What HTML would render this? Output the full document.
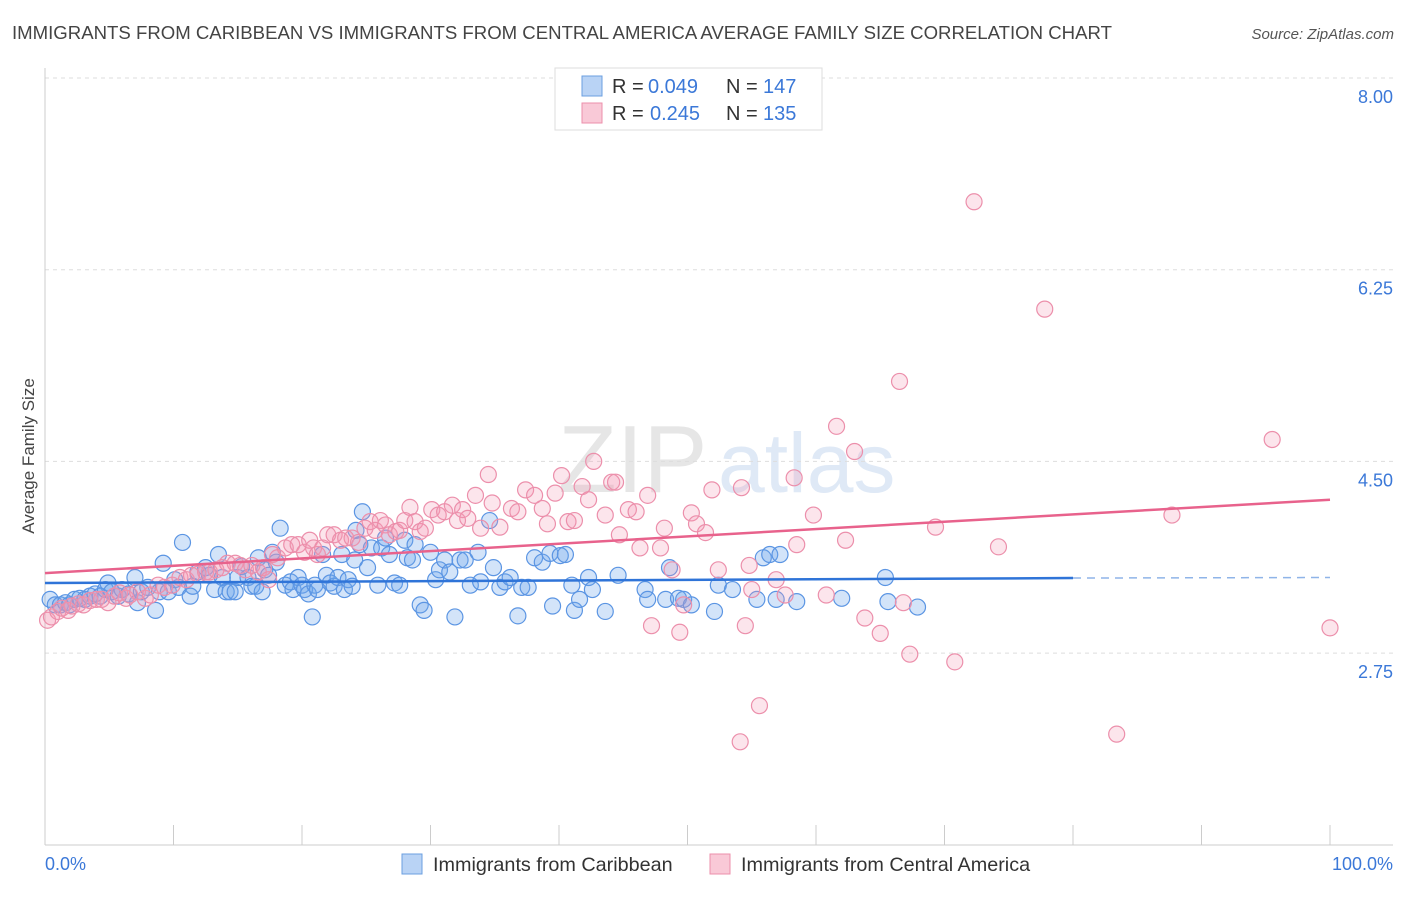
<!DOCTYPE html>
<html><head><meta charset="utf-8"><style>
body{margin:0;background:#fff;font-family:"Liberation Sans",sans-serif;}
svg text{font-family:"Liberation Sans",sans-serif;}
</style></head><body>
<svg id="chart" width="1406" height="892" viewBox="0 0 1406 892">
<text x="12" y="39" font-size="18.6" fill="#444">IMMIGRANTS FROM CARIBBEAN VS IMMIGRANTS FROM CENTRAL AMERICA AVERAGE FAMILY SIZE CORRELATION CHART</text>
<text x="1394" y="39" font-size="15" fill="#555" font-style="italic" text-anchor="end">Source: ZipAtlas.com</text>
<g>
<text x="558" y="492" font-size="96" fill="#e6e6e6" font-family="Liberation Serif,serif">ZIP</text>
<text x="718" y="492" font-size="84" fill="#dfe9f6">atlas</text>
</g>
<g id="grid"></g>
<g id="axes"></g>
<g id="points"></g>
<g id="lines"></g>
<text transform="translate(34,456) rotate(-90)" font-size="17" fill="#444" text-anchor="middle">Average Family Size</text>
<g>
<rect x="555" y="68" width="267" height="62" fill="#fff" stroke="#ddd"/>
<rect x="582" y="76" width="20" height="20" fill="#b9d3f5" stroke="#6b9fe0"/>
<rect x="582" y="103" width="20" height="20" fill="#f9c9d7" stroke="#ec8fab"/>
<g font-size="20">
<text x="612" y="93" fill="#333">R =</text><text x="648" y="93" fill="#3b78d8">0.049</text>
<text x="726" y="93" fill="#333">N =</text><text x="763" y="93" fill="#3b78d8">147</text></g>
<g font-size="20">
<text x="612" y="120" fill="#333">R =</text><text x="650" y="120" fill="#3b78d8">0.245</text>
<text x="726" y="120" fill="#333">N =</text><text x="763" y="120" fill="#3b78d8">135</text></g>
</g>
<g>
<rect x="402" y="854" width="20" height="20" fill="#b9d3f5" stroke="#6b9fe0"/>
<text x="433" y="871" font-size="19.8" fill="#333">Immigrants from Caribbean</text>
<rect x="710" y="854" width="20" height="20" fill="#f9c9d7" stroke="#ec8fab"/>
<text x="741" y="871" font-size="19.8" fill="#333">Immigrants from Central America</text>
</g>
<text x="45" y="870" font-size="18" fill="#3b78d8">0.0%</text>
<text x="1393" y="870" font-size="18" fill="#3b78d8" text-anchor="end">100.0%</text>
</svg>
<script>
const yTicks=[8.00,6.25,4.50,2.75];
const yTickLabels=["8.00","6.25","4.50","2.75"];
const xTicks=[0,10,20,30,40,50,60,70,80,90,100];
const blueX=[0.4,0.8,1.2,1.6,1.9,2.3,2.7,3.1,3.5,3.9,4.3,4.7,4.9,5.2,5.7,6.0,6.5,7.0,7.2,7.5,8.0,8.6,8.9,9.2,9.6,10.1,10.4,10.7,11.3,11.5,11.9,12.5,12.8,13.2,13.5,13.8,14.1,14.4,14.8,15.0,15.3,15.8,16.1,16.4,16.6,16.9,17.1,17.4,17.7,18.0,18.3,18.7,19.1,19.3,19.7,20.0,20.2,20.5,20.8,21.0,21.2,21.6,21.9,22.2,22.5,22.8,23.1,23.3,23.6,23.9,24.1,24.2,24.5,24.7,25.1,25.4,25.9,26.2,26.5,26.8,27.2,27.6,28.0,28.2,28.6,28.8,29.2,29.5,30.0,30.4,30.7,31.1,31.5,31.9,32.3,32.7,33.1,33.7,33.9,34.6,34.9,35.4,35.8,36.2,36.8,37.1,37.6,38.1,38.7,39.3,39.5,40.1,40.5,41.0,41.2,41.6,42.3,42.6,43.6,44.6,46.7,46.9,48.3,48.6,49.3,49.7,50.3,52.1,52.4,53.5,55.4,55.9,56.4,56.9,57.2,58.5,62.0,65.4,65.6,67.9];
const blueY=[3.24,3.19,3.19,3.21,3.19,3.24,3.25,3.24,3.27,3.29,3.27,3.33,3.39,3.31,3.27,3.33,3.29,3.44,3.21,3.31,3.35,3.14,3.31,3.57,3.31,3.42,3.35,3.76,3.27,3.36,3.49,3.53,3.46,3.33,3.65,3.44,3.31,3.31,3.31,3.44,3.54,3.44,3.36,3.36,3.62,3.31,3.51,3.46,3.67,3.58,3.89,3.37,3.40,3.33,3.44,3.37,3.33,3.29,3.08,3.37,3.33,3.65,3.46,3.39,3.36,3.44,3.65,3.33,3.42,3.36,3.60,3.87,3.74,4.04,3.53,3.71,3.37,3.71,3.80,3.65,3.39,3.37,3.78,3.62,3.60,3.74,3.19,3.14,3.67,3.42,3.51,3.60,3.49,3.08,3.60,3.60,3.37,3.67,3.40,3.96,3.53,3.35,3.40,3.44,3.09,3.35,3.35,3.62,3.58,3.66,3.18,3.64,3.65,3.37,3.14,3.24,3.44,3.33,3.13,3.46,3.33,3.24,3.24,3.53,3.25,3.24,3.19,3.13,3.37,3.33,3.24,3.62,3.65,3.24,3.65,3.22,3.25,3.44,3.22,3.17];
const pinkX=[0.2,0.5,1.0,1.3,1.8,2.1,2.6,3.0,3.5,4.0,4.4,4.9,5.4,5.8,6.3,6.6,7.2,7.8,8.2,8.8,9.3,9.9,10.5,11.0,11.4,11.9,12.5,12.8,13.3,13.8,14.2,14.8,15.2,15.6,16.1,16.6,17.0,17.4,17.7,18.1,18.7,19.2,19.7,20.2,20.6,20.9,21.2,21.6,22.0,22.5,23.0,23.4,23.9,24.4,24.9,25.3,25.7,26.1,26.5,26.8,27.3,27.6,28.0,28.4,28.8,29.2,29.6,30.1,30.6,31.1,31.7,32.1,32.5,32.9,33.5,33.9,34.5,34.8,35.4,36.3,36.8,37.4,38.1,38.7,39.1,39.7,40.2,40.7,41.2,41.8,42.3,42.7,43.6,44.1,44.4,44.7,45.4,46.0,46.3,46.9,47.2,47.9,48.2,48.8,49.4,49.7,50.3,50.7,51.4,51.9,52.4,54.2,54.5,54.8,55.0,55.6,54.1,56.9,57.6,58.5,58.3,59.8,60.8,61.6,62.3,63.0,63.8,65.0,66.5,66.8,67.3,69.3,70.8,72.3,74.2,77.8,83.4,87.7,95.5,100.0];
const pinkY=[3.05,3.08,3.13,3.16,3.14,3.18,3.20,3.19,3.23,3.24,3.24,3.21,3.27,3.30,3.25,3.28,3.31,3.25,3.28,3.37,3.35,3.37,3.44,3.42,3.46,3.47,3.49,3.49,3.51,3.53,3.57,3.57,3.55,3.51,3.55,3.49,3.53,3.42,3.65,3.62,3.71,3.74,3.74,3.67,3.78,3.71,3.65,3.71,3.83,3.83,3.78,3.80,3.80,3.76,3.89,3.95,3.87,3.96,3.92,3.83,3.86,3.87,3.96,4.08,3.95,3.86,3.89,4.06,4.01,4.04,4.10,3.96,4.06,3.98,4.19,3.89,4.38,4.12,3.90,4.07,4.04,4.24,4.19,4.07,3.93,4.21,4.37,3.95,3.96,4.27,4.15,4.50,4.01,4.31,4.31,3.83,4.06,4.04,3.71,4.19,3.00,3.71,3.89,3.51,2.94,3.19,4.03,3.93,3.85,4.24,3.51,4.26,3.00,3.55,3.33,2.27,1.94,3.42,3.28,3.74,4.35,4.01,3.28,4.82,3.78,4.59,3.07,2.93,5.23,3.21,2.74,3.90,2.67,6.87,3.72,5.89,2.01,4.01,4.70,2.98];
const blueTrend=[3.39,3.435,3.44];
const pinkTrend=[3.48,4.15];

const NS="http://www.w3.org/2000/svg";
const xS=v=>45+v*12.85;
const yS=v=>78+(8-v)*109.54;
function mk(tag,attrs,parent){const e=document.createElementNS(NS,tag);for(const k in attrs)e.setAttribute(k,attrs[k]);parent.appendChild(e);return e;}
const grid=document.getElementById('grid'),axes=document.getElementById('axes'),pts=document.getElementById('points'),lines=document.getElementById('lines');
yTicks.forEach((t,i)=>{
  const l=mk('line',{x1:45,x2:1393,y1:yS(t),y2:yS(t),stroke:'#ddd','stroke-dasharray':'4,4'},grid);
  
  
  const tx=mk('text',{x:1393,y:yS(t)+25,'font-size':18,fill:'#3b78d8','text-anchor':'end'},axes);
  tx.textContent=yTickLabels[i];
  
  
});
const ya=mk('line',{x1:45,x2:45,y1:68,y2:845,stroke:'#ccc'},axes);


const xa=mk('line',{x1:45,x2:1393,y1:845,y2:845,stroke:'#ccc'},axes);


xTicks.forEach(t=>{
  const l=mk('line',{x1:xS(t),x2:xS(t),y1:825,y2:845,stroke:'#ccc'},axes);
  
  
});
blueX.forEach((x,i)=>{
  const c=mk('circle',{cx:xS(x),cy:yS(blueY[i]),r:8,fill:'rgba(110,165,235,0.3)',stroke:'#5b95e3','stroke-width':1.2},pts);
  
  
});
pinkX.forEach((x,i)=>{
  const c=mk('circle',{cx:xS(x),cy:yS(pinkY[i]),r:8,fill:'rgba(245,150,180,0.25)',stroke:'#ec8fab','stroke-width':1.2},pts);
  
  
});
const bl=mk('line',{x1:xS(0),x2:xS(80),y1:yS(blueTrend[0]),y2:yS(blueTrend[1]),stroke:'#2f74d8','stroke-width':2.5},lines);


const bd=mk('line',{x1:xS(80),x2:xS(100),y1:yS(blueTrend[1]),y2:yS(blueTrend[2]),stroke:'#8fb4e8','stroke-width':1.5,'stroke-dasharray':'8,6'},lines);


const pl=mk('line',{x1:xS(0),x2:xS(100),y1:yS(pinkTrend[0]),y2:yS(pinkTrend[1]),stroke:'#e8628c','stroke-width':2.5},lines);


</script>
</body></html>
